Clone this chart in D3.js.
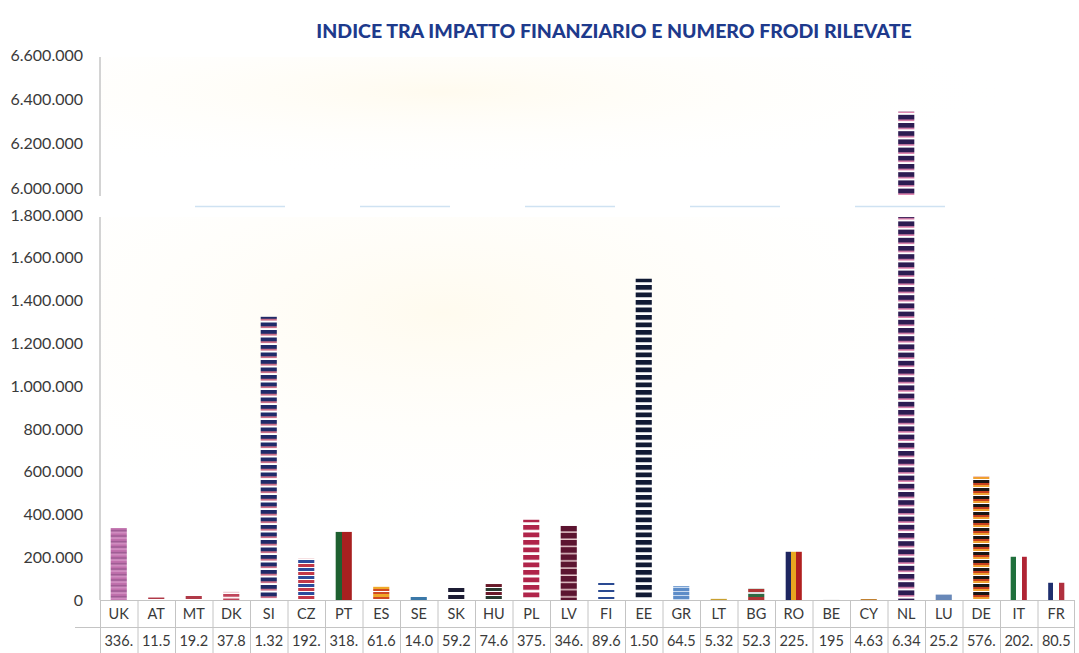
<!DOCTYPE html>
<html>
<head>
<meta charset="utf-8">
<script src="https://cdn.jsdelivr.net/npm/d3@7"></script>
<style>
  body { margin: 0; background: #fff; }
  svg { display: block; font-family: Lato, "Open Sans", sans-serif; }
</style>
</head>
<body>
<svg id="chart" width="1079" height="653"></svg>
<script>
// countries, left to right
var countries = ['UK', 'AT', 'MT', 'DK', 'SI', 'CZ', 'PT', 'ES', 'SE', 'SK', 'HU', 'PL', 'LV',
  'FI', 'EE', 'GR', 'LT', 'BG', 'RO', 'BE', 'CY', 'NL', 'LU', 'DE', 'IT', 'FR'];
// indice (impatto finanziario / numero frodi)
var indexValues = [336200, 11540, 19230, 37810, 1324000, 192400, 318300, 61620, 14050, 59240, 74630, 375100, 346200,
  89640, 1502000, 64530, 5320, 52340, 225400, 195, 4630, 6345000, 25230, 576300, 202100, 80540];
var lowTicks = [0, 200000, 400000, 600000, 800000, 1000000, 1200000, 1400000, 1600000, 1800000];
var highTicks = [6000000, 6200000, 6400000, 6600000];
var title = 'INDICE TRA IMPATTO FINANZIARIO E NUMERO FRODI RILEVATE';

var svg = d3.select('#chart');
var it = d3.formatLocale({ decimal: ',', thousands: '.', grouping: [3], currency: ['', ' €'] });
var fmt = it.format(',d');

var LEFT = 100, RIGHT = 1075;
var x = d3.scaleBand().domain(countries).range([LEFT, RIGHT]).padding(0);
var barW = x.bandwidth() * 0.43;
var yLow = d3.scaleLinear().domain([0, 1800000]).range([600, 215]);
var yHigh = d3.scaleLinear().domain([6000000, 6600000]).range([188, 55]);
var LOW_TOP = 217, HIGH_BOTTOM = 196;

// flag-like fills (styling only)
var stripes = {
  UK: [['#c070ac', 2], ['#8a3a7e', 1.5], ['#d08cc0', 2]],
  AT: [['#b03a48', 3], ['#fff', 1]],
  MT: [['#b03a48', 3], ['#fff', 1]],
  DK: [['#c0445a', 3], ['#fff', 1.5]],
  SI: [['#1f2a68', 4], ['#c04a6a', 1.5], ['#fff', 2]],
  CZ: [['#2c4c9c', 3], ['#fff', 1], ['#c23848', 3], ['#fff', 1]],
  ES: [['#d04a22', 2], ['#f0a828', 3], ['#d04a22', 2], ['#fff', 1]],
  SE: [['#3a78a8', 3]],
  SK: [['#1c1c34', 4], ['#fff', 3]],
  HU: [['#6a1a2a', 3], ['#fff', 1], ['#283a30', 3], ['#fff', 1]],
  PL: [['#b0244a', 5], ['#fff', 2.5]],
  LV: [['#5c1430', 6], ['#e8c8cc', 1.2]],
  FI: [['#fff', 2], ['#2a4a92', 2], ['#fff', 3]],
  EE: [['#111a34', 5], ['#fff', 2.5]],
  GR: [['#5c8cc8', 3], ['#c8daf0', 1]],
  LT: [['#c8a030', 3]],
  BG: [['#ddd', 2], ['#2e6a42', 3], ['#b03434', 3]],
  BE: [['#222', 3]],
  CY: [['#c08030', 3]],
  NL: [['#2c1c52', 5], ['#d04888', 1.2], ['#fff', 2]],
  LU: [['#6888b8', 3]],
  DE: [['#1a1414', 3], ['#c8401e', 2], ['#f0a030', 2], ['#fff', 1]]
};
var vertical = {
  PT: [['#1e6030', 0.4], ['#a82020', 1]],
  RO: [['#1e2660', 0.34], ['#e8a820', 0.67], ['#b02020', 1]],
  IT: [['#20703c', 0.3], ['#fff', 0.7], ['#b02434', 1]],
  FR: [['#1e2e6e', 0.3], ['#fff', 0.7], ['#b0303e', 1]]
};

var defs = svg.append('defs');
Object.keys(stripes).forEach(function(c) {
  var list = stripes[c];
  var total = d3.sum(list, function(s) { return s[1]; });
  var p = defs.append('pattern').attr('id', 'pat-' + c)
    .attr('patternUnits', 'userSpaceOnUse').attr('width', 40).attr('height', total);
  var acc = 0;
  list.forEach(function(s) {
    p.append('rect').attr('x', 0).attr('y', acc).attr('width', 40).attr('height', s[1]).attr('fill', s[0]);
    acc += s[1];
  });
});
Object.keys(vertical).forEach(function(c) {
  var g = defs.append('linearGradient').attr('id', 'pat-' + c).attr('x1', 0).attr('x2', 1).attr('y1', 0).attr('y2', 0);
  var prev = 0;
  vertical[c].forEach(function(s) {
    g.append('stop').attr('offset', prev).attr('stop-color', s[0]);
    g.append('stop').attr('offset', s[1]).attr('stop-color', s[0]);
    prev = s[1];
  });
});
var glow = defs.append('radialGradient').attr('id', 'glow').attr('cx', 0.35).attr('cy', 0.25).attr('r', 0.6);
glow.append('stop').attr('offset', 0).attr('stop-color', '#fff8e4').attr('stop-opacity', 0.6);
glow.append('stop').attr('offset', 1).attr('stop-color', '#fff').attr('stop-opacity', 0);

defs.append('clipPath').attr('id', 'clip-low').append('rect')
  .attr('x', LEFT).attr('y', LOW_TOP).attr('width', RIGHT - LEFT).attr('height', 600 - LOW_TOP);
defs.append('clipPath').attr('id', 'clip-high').append('rect')
  .attr('x', LEFT).attr('y', 50).attr('width', RIGHT - LEFT).attr('height', HIGH_BOTTOM - 50);

// faint background tint
svg.append('rect').attr('x', LEFT + 1).attr('y', LOW_TOP).attr('width', RIGHT - LEFT).attr('height', 600 - LOW_TOP)
  .attr('fill', 'url(#glow)');
svg.append('rect').attr('x', LEFT + 1).attr('y', 57).attr('width', RIGHT - LEFT).attr('height', HIGH_BOTTOM - 57)
  .attr('fill', 'url(#glow)');

// title
svg.append('text').attr('x', 614).attr('y', 38).attr('text-anchor', 'middle')
  .attr('font-size', 19.5).attr('font-weight', 900).attr('fill', '#1e3a8c').text(title);

// y axes
var axisLow = d3.axisLeft(yLow).tickValues(lowTicks).tickSize(0).tickPadding(17).tickFormat(fmt);
var axisHigh = d3.axisLeft(yHigh).tickValues(highTicks).tickSize(0).tickPadding(17).tickFormat(fmt);
[[axisLow, LOW_TOP, 600], [axisHigh, 57, HIGH_BOTTOM]].forEach(function(a) {
  var g = svg.append('g').attr('transform', 'translate(' + LEFT + ',0)').call(a[0]);
  g.select('.domain').remove();
  g.selectAll('text').attr('font-size', 16).attr('fill', '#3a3a3a').attr('font-family', 'Lato, sans-serif');
  svg.append('line').attr('x1', LEFT).attr('x2', LEFT).attr('y1', a[1]).attr('y2', a[2])
    .attr('stroke', '#a8a8a8').attr('stroke-width', 1);
});

// break marks between the two panels
svg.append('line').attr('x1', LEFT + 95).attr('x2', RIGHT - 100)
  .attr('y1', (LOW_TOP + HIGH_BOTTOM) / 2).attr('y2', (LOW_TOP + HIGH_BOTTOM) / 2)
  .attr('stroke', '#cfe2f2').attr('stroke-width', 1.5).attr('stroke-dasharray', '90 75');

// bars
var rows = countries.map(function(c, i) { return { c: c, v: indexValues[i] }; });
function barX(d) { return x(d.c) + (x.bandwidth() - barW) / 2; }
svg.append('g').attr('clip-path', 'url(#clip-low)').selectAll('rect').data(rows).enter().append('rect')
  .attr('x', barX).attr('width', barW)
  .attr('y', function(d) { return yLow(d.v); })
  .attr('height', function(d) { return yLow(0) - yLow(d.v); })
  .attr('fill', function(d) { return 'url(#pat-' + d.c + ')'; });
svg.append('g').attr('clip-path', 'url(#clip-high)').selectAll('rect')
  .data(rows.filter(function(d) { return d.v > yHigh.domain()[0]; })).enter().append('rect')
  .attr('x', barX).attr('width', barW)
  .attr('y', function(d) { return yHigh(d.v); })
  .attr('height', function(d) { return HIGH_BOTTOM - yHigh(d.v); })
  .attr('fill', function(d) { return 'url(#pat-' + d.c + ')'; });

// data table under the axis
var ROW1 = 600, ROW2 = 627, ROW3 = 653;
var grid = svg.append('g').attr('stroke', '#c4c4c4').attr('stroke-width', 1);
grid.append('line').attr('x1', LEFT).attr('x2', RIGHT).attr('y1', ROW1 + 0.5).attr('y2', ROW1 + 0.5);
grid.append('line').attr('x1', 75).attr('x2', RIGHT).attr('y1', ROW2 + 0.5).attr('y2', ROW2 + 0.5);
grid.selectAll('.v').data(countries.concat(['end'])).enter().append('line')
  .attr('x1', function(d) { return d === 'end' ? RIGHT - 0.5 : x(d) + 0.5; })
  .attr('x2', function(d) { return d === 'end' ? RIGHT - 0.5 : x(d) + 0.5; })
  .attr('y1', ROW1).attr('y2', ROW3);

svg.append('g').selectAll('text').data(rows).enter().append('text')
  .attr('x', function(d) { return x(d.c) + x.bandwidth() / 2; })
  .attr('y', ROW1 + 19).attr('text-anchor', 'middle')
  .attr('font-size', 14.5).attr('fill', '#3a3a3a').text(function(d) { return d.c; });
svg.append('g').selectAll('text').data(rows).enter().append('text')
  .attr('x', function(d) { return x(d.c) + x.bandwidth() / 2; })
  .attr('y', ROW2 + 19).attr('text-anchor', 'middle')
  .attr('font-size', 14.5).attr('fill', '#3a3a3a')
  .text(function(d) { return fmt(d.v).slice(0, 4); });
</script>
</body>
</html>
